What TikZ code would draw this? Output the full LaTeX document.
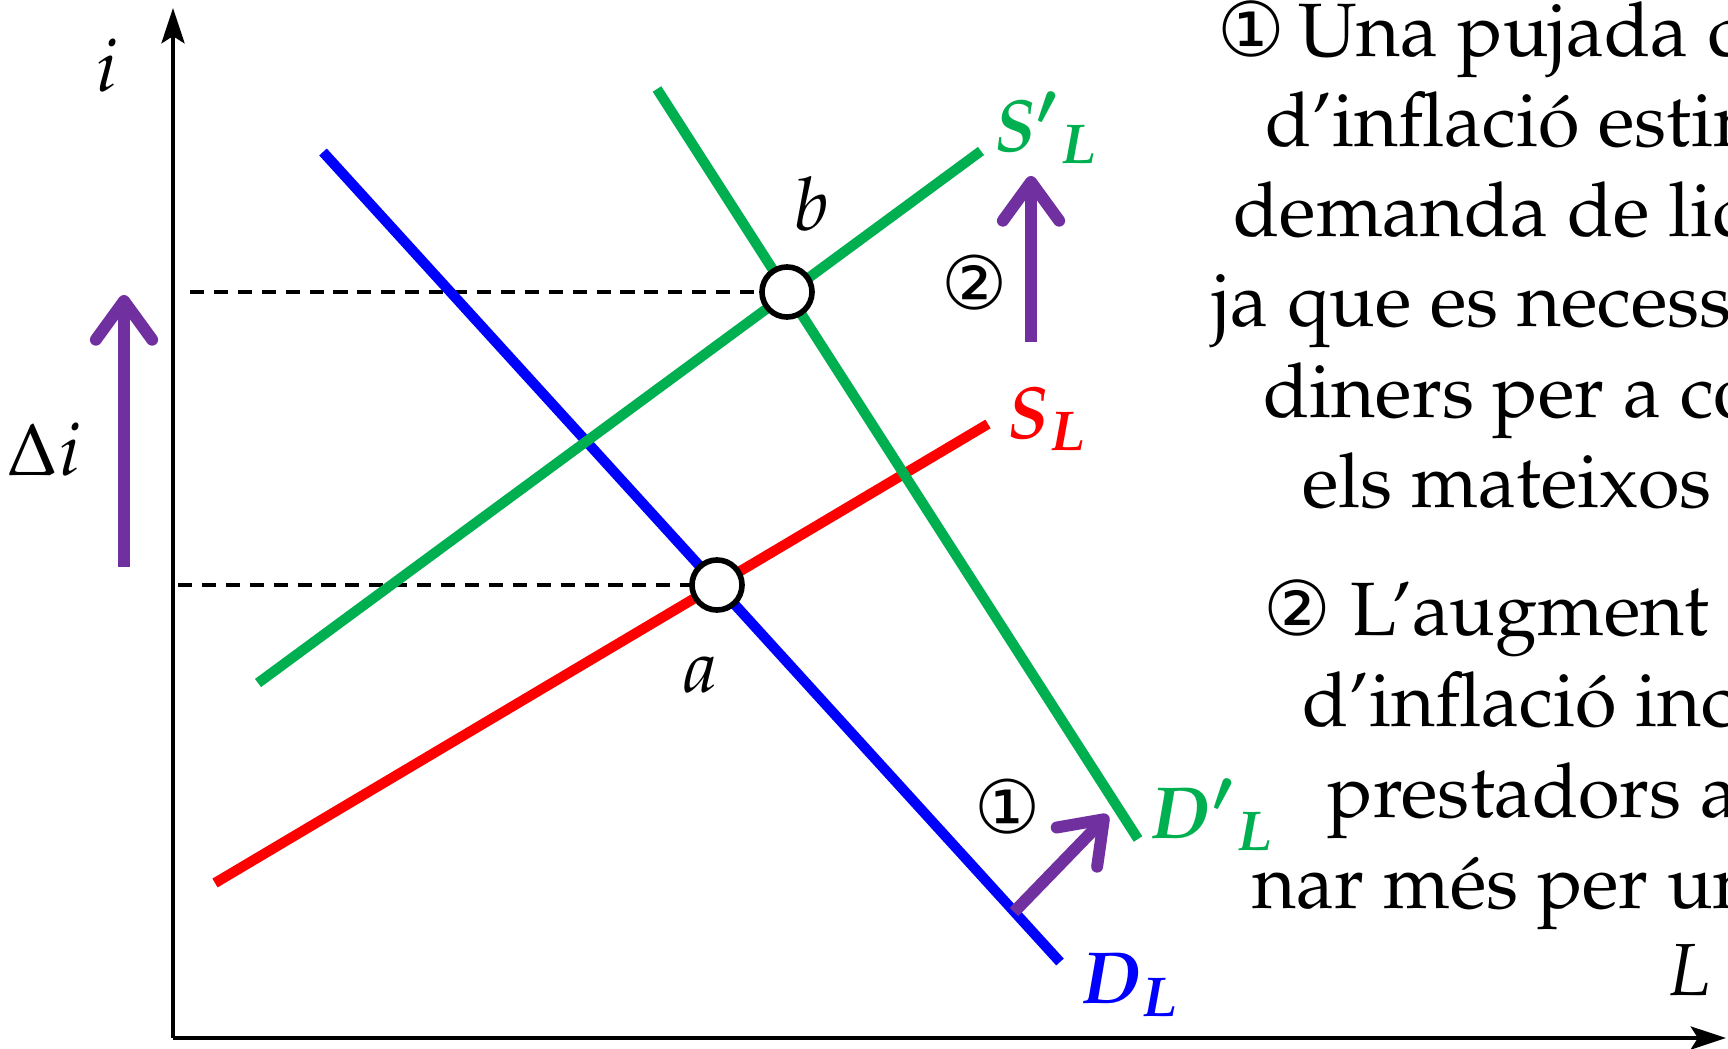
\documentclass[tikz,border=0pt]{standalone}
\usepackage[no-math]{fontspec}
\newfontfamily\circfont{DejaVu Sans}
\usepackage[T1]{fontenc}
\usepackage{mathpazo}
\usepackage{bm}
\usetikzlibrary{arrows.meta}

\definecolor{curvegreen}{RGB}{0,176,80}
\definecolor{shiftpurple}{RGB}{112,48,160}

\begin{document}
\begin{tikzpicture}[x=0.01cm,y=-0.01cm]
	\tikzstyle{curve} = [line width=2.9pt];
	\tikzstyle{guide} = [line width=1.1pt, dash pattern=on 4pt off 2.8pt];
	\tikzstyle{axis} = [line width=1.4pt, -{Stealth[length=10pt,width=6.5pt,inset=2pt]}];
	\tikzstyle{movearrow} = [shiftpurple, line width=3.4pt, -{Straight Barb[length=11pt,width=16pt,round]}];
	\tikzstyle{eqpt} = [circle, draw, fill=white, line width=1.6pt, minimum size=0.5cm, inner sep=0pt];
	\tikzstyle{lab} = [inner sep=0pt, font=\fontsize{21}{25}\selectfont];
	\tikzstyle{circnum} = [inner sep=0pt, font=\circfont\fontsize{21}{25}\selectfont];
	\tikzstyle{txt} = [anchor=base west, inner sep=0pt, font=\fontsize{21.5}{26}\selectfont];
	
	\useasboundingbox (0,0) rectangle (1728,1049);
	\clip (0,0) rectangle (1728,1049);
	
	% axes
	\coordinate (O) at (173,1038);
	\coordinate (ytop) at (173,8);
	\coordinate (xend) at (1726,1038);
	\draw[axis] (O) -- (ytop);
	\draw[axis] (O) -- (xend);
	
	% equilibria
	\coordinate (pa) at (717,585);
	\coordinate (pb) at (787,292);
	\coordinate (ya) at (178,585);
	\coordinate (yb) at (190,292);
	\draw[guide] (ya) -- (pa);
	\draw[guide] (yb) -- (pb);
	
	% curves
	\coordinate (SL1) at (215,883);
	\coordinate (SL2) at (988,424);
	\coordinate (DL1) at (323,152);
	\coordinate (DL2) at (1060,962);
	\coordinate (SpL1) at (258,683);
	\coordinate (SpL2) at (981,151);
	\coordinate (DpL1) at (657,89);
	\coordinate (DpL2) at (1138,839);
	\draw[curve, red] (SL1) -- (SL2);
	\draw[curve, blue] (DL1) -- (DL2);
	\draw[curve, curvegreen] (SpL1) -- (SpL2);
	\draw[curve, curvegreen] (DpL1) -- (DpL2);
	
	\node[eqpt] (a) at (pa) {};
	\node[eqpt] (b) at (pb) {};
	
	% shifts
	\coordinate (di0) at (124,567);
	\coordinate (di1) at (124,295);
	\coordinate (s0) at (1031,342);
	\coordinate (s1) at (1031,176);
	\coordinate (d0) at (1014,912);
	\coordinate (d1) at (1108,815);
	\draw[movearrow] (di0) -- (di1);
	\draw[movearrow] (s0) -- (s1);
	\draw[movearrow] (d0) -- (d1);
	
	% labels
	\node[lab] (ilab) at (107,66) {$i$};
	\node[lab] (dilab) at (44,450) {$\Delta i$};
	\node[lab] (alab) at (700,675) {$a$};
	\node[lab] (blab) at (812,204) {$b$};
	\node[lab] (Llab) at (1689,970) {$L$};
	\node[lab, curvegreen] (SpLlab) at (1046,128) {$\bm{{S'}_{L}}$};
	\node[lab, red] (SLlab) at (1047,419) {$\bm{S_{L}}$};
	\node[lab, curvegreen] (DpLlab) at (1212,815) {$\bm{{D'}_{L}}$};
	\node[lab, blue] (DLlab) at (1130,985) {$\bm{D_{L}}$};
	\node[circnum] (n2) at (975,283) {②};
	\node[circnum] (n1) at (1008,807) {①};
	
	% text
	\node[txt] (t1) at (1217,57) {{\circfont ①}\,Una pujada d};
	\node[txt] (t2) at (1265,147) {d'inflaci\'o estim};
	\node[txt] (t3) at (1233,237) {demanda de liq};
	\node[txt] (t4) at (1212,327) {ja que es necess};
	\node[txt] (t5) at (1263,417) {diners per a com};
	\node[txt] (t6) at (1302,507) {els mateixos};
	\node[txt] (u1) at (1263,635) {{\circfont ②} L'augment};
	\node[txt] (u2) at (1302,726) {d'inflaci\'o inc};
	\node[txt] (u3) at (1327,817) {prestadors a};
	\node[txt] (u4) at (1252,908) {nar m\'es per un};
\end{tikzpicture}
\end{document}
